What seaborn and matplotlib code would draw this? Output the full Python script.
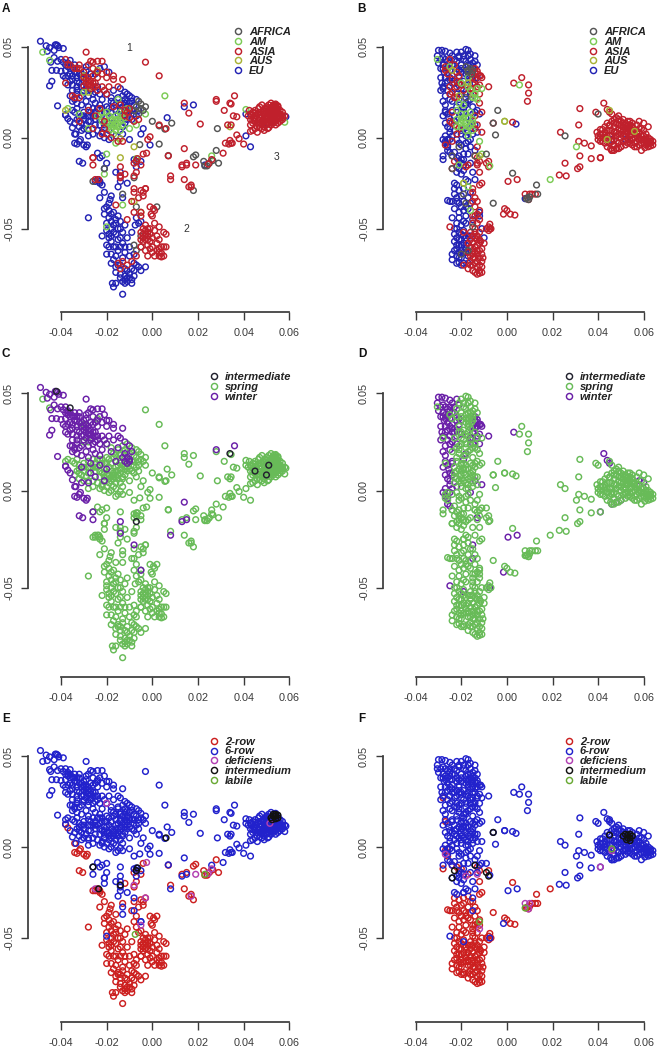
import pandas as pd
import seaborn as sns
import matplotlib.pyplot as plt
from matplotlib.lines import Line2D

# PCA scores, in units of 0.001 (pc1, pc2)
# names: l_/r_ = left/right column, then region, habit, row type

# left column (panels A, C, E)
l_eu_win_6 = [(-49,53),(-46.5,50.5),(-45,49.5),(-46,47.5),(-42.5,51),(-41.5,50.5),(-41,49.5),(-43,48),(-39,49),(-43,44),
    (-44.5,41.5),(-41.5,42),(-39,41.5),(-37,39),(-34,40),(-33,36),(-36,35),(-38,33),(-36,31),(-40,36.5),(-42,37),(-44,37),
    (-38,37),(-35,38.5),(-31,35),(-29,39),(-29,37),(-45,28.5),(-41.5,17.5),(-38,12.5),(-36,9),(-35,5.5),(-33.5,2),(-31,4),
    (-28,4),(-27,9),(-25,7),(-34,21),(-36,23),(-33,24),(-30,26),(-31,18),(-28,17),(-25,19),(-22,21),(-20,24),(-17,26),
    (-14,27),(-12,25),(-10,23),(-9,20),(-23,13),(-20,11),(-16,15),(-12,19),(-31,12),(-27,14),(-18,20),(-15,22),(-13,17),
    (-24,28),(-40,43),(-33,33),(-30,31),(-37,41),(-35,34),(-32,30),(-26,24),(-23,18),(-11,17),(-10,15),
    (-38,40),(-36,38),(-34,36),(-32,35),(-39,34),(-37,34),(-35,32),(-33,31),(-31,33),(-29,34),(-27,35),(-25,35),(-23,38),
    (-21,39),(-19,36),(-35,29),(-33,28),(-31,28),(-29,27),(-27,26),(-25,25),(-23,24),(-37,29),(-35,26),(-33,26),(-31,23),
    (-28,23),(-26,21),(-29,20),(-33,19),(-35,20),(-44,31)]
l_as_win_6 = [(-29,47),(-27,42),(-26,41.5),(-24,42),(-22,42),(-38,43),(-37,40),(-32,38),(-30,36),(-28,33),(-28,31),(-27,31),
    (-26,30),(-25,30),(-26,28),(-28,29),(-24,33),(-22,35),(-20,33),(-17,32),(-17,34),(-13,32),(-15,28),(-19,28),(-21,26),
    (-35,23),(-34,22),(-32,22),(-12,15),(-11,14),(-10,16),(-21,5),(-27,29),(-25,28),(-29,32),(14,-6),(-14,-22),(-8,-28),
    (-5,-41),(28,21),(36,23),(-26,-11),(-26,-15),(-14,-16),(8,-23),(13,-16),(15,-15),
    (-36,40),(-34,38),(-32,40),(-30,33),(-33,38),(-28,40),(-26,38),(-24,36),(-26,34),(-27,27),(-29,30),(-30,28.5),(-24,26),
    (-22,28),(-20,36),(-38,30)]
l_eu_spr_6 = [(-33,16),(-30,14),(-28,12),(-25,10),(-23,7),(-21,5),(-19,4),(-17,8),(-15,13),(-11,20),(-9,22),(-8,18),(-6,15),
    (-31,8),(-29,7),(-26,2),(-23,1),(-21,0),(-19,-1),(-35,15),(-14,11),(-12,8),(-9,10),(-4,5),(-22,-10),(-24,-8.5),(-23,-11),
    (-20,-14),(-14,-19),(-16,-19),(-14,-24),(-15,-27),(-21,-17),(6.5,11),(18,18),(14,17),(-10,-1),(-8,-12),(-11,-25),(-27,12),
    (-24,16),(-20,17),(-17,19),(-14,15),(-11,12),(-7,12),(-33,10),(-30,10),(-22,3),(-16,1),(-13,2),(-5,2),(-1,-4),(-5,-13),
    (-13,-33),(43,-5),(41,1),(58.5,11.5),(41,13),
    (-34,14),(-32,11),(-30,12),(-28,9),(-26,12),(-25,14),(-23,10),(-21,14),(-19,16),(-18,14),(-16,18),(-14,19),(-12,21),
    (-10,19),(-8,13),(-9,15),(-34,8),(-32,6),(-30,5),(-28,1),(-24,4),(-21,7),(-19,8),(-13,6),(-11,10),(-26,16),(-22,16),
    (-18,22),(-13,23),(-11,24),(-7,21)]
l_am_spr_6 = [(-48,47),(-45,42.5),(-37,16),(-32,13),(-30,25),(-28,5),(-20,8),(-18,10),(-17,6),(-16,7),(-15,6),(-15,8),(-14,9),
    (-19,12),(-21,11),(-22,9),(-16,12),(-14,4),(-13,13),(-15,21),(-10,5),(-7,7),(-3,13),(-16,-3),(5.5,23),(-7,-11.5),(41,15.5),
    (58,8.5),(26,-10),(-21,-20),(-20,-9),(-18,5),(-13,-37),(-20,-49),
    (-17,9),(-16,4),(-18,7),(-19,6),(-15,10),(-13,7),(-12,11),(-20,14),(-22,14),(-24,12),(-14,14),(-11,16),(-16,10),(-17,2)]
l_af_spr_6 = [(-6,20),(-5,18.5),(-7,17),(-5,16),(-4,15),(-3,17),(-8,15),(-6,13),(0,9),(3,6.5),(8.5,8),(5.5,4.7),(3,-3.5),
    (-5.5,-3.8),(7,-9.8),(28.5,5),(-21,-17),(-7,-13)]
l_af_spr_2 = [(18,-10.5),(19,-9.5),(22.5,-13),(23,-15.5),(24,-15.5),(25,-14),(26.5,-12.5),(28,-7),(29,-14),(18,-29),(-26,-24),
    (-8,-22),(-7,-38),(-5,-54),(-8,-59),(-7,-62),(-5,-60),(2,-38),(-13,-31)]
l_as_spr_6 = [(-3,41.5),(3,34),(14,19),(16,13.5),(21,7.5),(28,20),(31.5,15),(34.5,18.5),(35.5,12),(37,11.5),(33,7),(34.5,7),
    (34.5,-3),(33.5,-3.5),(35,-3),(31,-8.5),(32,-3),(34,-1.5),(40,-3.5),(38,-0.5),(-1,0.5),(3,7),(-15,-2),(-2,-1),(37,1.5),
    (-32,9),(-28,15),(-25,12),(-23,16),(-21,9),(-17,17),(-14,18),(-12,12),(-10,11),(-8,9),(-6,10),(-22,2),(-26,5),(-20,2),
    (-18,0),(-13,-2),
    (42,12),(43,10),(43,13),(44,8),(44.5,11),(44,14),(45,9),(45.5,12),(45,15),(46,6),(46.5,10),(46,13),(46.5,16),(47,8),
    (47,11),(47.5,14),(47,17),(48,5),(48,7),(48.5,10),(48,12),(48.5,15),(48,18),(49,6),(49,9),(49.5,11),(49,13),(49.5,16),
    (50,7),(50,10),(50.5,12),(50,14),(50,17),(51,5.5),(51,8),(51.5,11),(51,13),(51,15),(51,18),(52,7),(52,9),(52.5,12),
    (52,14),(52,16),(52,19),(53,8),(53,10),(53.5,12),(53,15),(53,17),(54,7),(54,9),(54.5,11),(54,13),(54,16),(54,18.5),
    (55,8),(55,10),(55.5,12),(55,14),(55,17),(56,9),(56,11),(56,13),(56,15),(57,10),(57,12),(57,14),(43,7),(44,4),(43,3.5),
    (45,5),(46,3),(47,5.5),(42.5,15),(49,4),(58,12),(50.5,5),
    (44,9.5),(45,13.5),(46,8),(47,12.5),(48,9),(49,14.5),(50,11),(51,9.5),(51,16.5),(52,10.5),(53,13.5),(54,10),(54,14.5),
    (55,11),(56,12),(55,15.5),(53,9),(52,13),(49,7.5),(47,9.5),(50,15.5),(57,11),(53,16),(44,12.5)]
l_as_spr_2 = [(-1,-38),(0.5,-39),(1,-40),(-0.5,-42),(0,-43),(-3,-28),(-4,-30),(-5,-29),(-6,-33),(-4,-32),(-8,-30),(-9,-35),
    (-12,-20),(-14,-21),(-8,-14),(-7,-19),(-5,-15),(-4,-9),(7,-10),(8,-21),(13,-15),(15,-14),(14,-23),(16,-27),(17,-26),
    (-3,-48),(-2,-52),(-1,-50),(1,-47),(3,-49),(5,-52),(6,-53),(-5,-52),(-4,-55),(-3,-56),(-2,-54),(-1,-57),(0,-55),(-4,-57),
    (-2,-59),(0,-60),(2,-58),(3,-61),(5,-60),(1,-65),(3,-65),(4,-65.5),(5,-65),(-2,-65),(0,-63),(6,-60),(-5,-60),(-7,-65),
    (-9,-68),(-11,-70),(-13,-68),(-14,-72),(-3,-51),(-2,-56),(-4,-53),(-15,-69),(-11,-45),(-8,-41),(-16,-37),
    (-4,-50),(-3,-53),(-1,-53),(-5,-56),(-2,-50),(1,-51),(2,-54),(3,-56),(4,-60),(2,-62),(-1,-61),(-3,-62),(3,-63),(4,-63.5)]
l_eu_spr_2 = [(-20,-38),(-19,-40),(-21,-42),(-19,-44),(-18,-46),(-20,-47),(-17,-41),(-15,-43),(-14,-46),(-12,-48),(-13,-52),
    (-15,-50),(-17,-52),(-19,-53),(-18,-57),(-19,-60),(-17,-60),(-15,-56),(-15,-62),(-13,-58),(-11,-55),(-9,-52),(-7,-44),
    (-6,-47),(-5,-46),(-10,-60),(-12,-63),(-13,-66),(-17,-67),(-18,-69),(-15,-70),(-11,-73),(-10,-75),(-12,-76),(-11,-77),
    (-10,-77),(-9,-78),(-8,-76),(-13,-79),(-12,-80),(-9,-80),(-17.5,-80),(-17,-82),(-16,-80),(-13,-86),(-14,-75),(-7,-70),
    (-5,-73),(-3,-71),(-6,-71),(-20,-64),(-19,-55),(-23,-33),(-21,-30),(-25,-24),(-24,-23),(-23,-24),(-23,-25),(-22,-26),
    (-18.5,-34),(-19,-36),(-18,-32),(-10,-65),(-8,-69),(-16,-74),(-14,-77),(-28,-44),(-22,-54),(-16,-47),
    (-18,-42),(-16,-45),(-17,-48),(-21,-39),(-20,-51),(-16,-53),(-14,-55),(-18,-54),(-18,-50),(-14,-60),(-16,-60),(-12,-60),
    (-8,-64),(-9,-72),(-12,-72),(-14,-70),(-16,-71),(-11,-79),(-12,-78),(-8,-73),(-16,-65),(-18,-64),(-20,-59),(-14,-50)]
l_eu_win_2 = [(-38,12.5),(-37,10.5),(-34,2),(-34,-3),(-33,-3.5),(-32,-2),(-31.5,-1),(-30,-4),(-29,-5),(-28.5,-4),(-32,-13),
    (-30.5,-14)]
l_eu_int_6 = [(-36,42.5),(-42,51),(-7,-16),(50,8)]
l_as_int_6 = [(34,19),(51,13),(45,10)]
l_aus_spr_6 = [(-30,34),(-24,37),(-28,25),(-14,-0.5),(-14,-11),(-8,-5),(-8,-35),(50,10),(34,6),(-38,15),(-5,-41)]
l_as_spr_def = [(-2.5,-8.5),(19,-15),(26,-12),(24.5,-14.5),(-3,-28),(-5,-43),(-8,-21),(-25,-23),(17,-27),(51.5,13),(-20,24)]
l_as_spr_int = [(6,5),(-26,-11),(-7,-13),(-6.5,-11.5),(-14,-21),(-23.5,-23),(52,16),(53,17),(54,17),(54,18),(53,18),(55,16),
    (52.5,15),(54,15.5),(55,17.5)]
l_eu_spr_lab = [(-7.5,-48),(23,-15)]

# right column (panels B, D, F)
r_eu_win_6 = [(-30,48),(-28.5,48),(-27,47.5),(-25,46.5),(-30.5,45),(-29,43),(-28,40),(-29,38),(-27.5,36),(-26,42),(-24,45),
    (-22,47),(-29,33),(-28.5,30),(-27,33),(-26,31),(-25,37),(-24,34),(-29,26),(-28,20),(-27,15),(-25.5,11),(-26,6),(-25,5),
    (-27,1),(-26,-1),(-26,-4),(-25,-8),(-26,-7),(-13,33),(-22,24),(-19,16),(-16,-1),(-18,19),(-23,30),(-21,37),
    (-30,41),(-28,44),(-27,43),(-25,41),(-28,38),(-26,38),(-24,40),(-27,30),(-25,33),(-24,30),(-28,28),(-26,26),(-27,23),
    (-25,21),(-27,18),(-28,12),(-26,13),(-24,15),(-27,8),(-25,3),(-27,-3),(-25,-1),(-24,1),(-28,-1),(-23,43),(-21,44)]
r_as_win_6 = [(-14,38),(-13,35),(-12,34),(-11.5,34),(-14,32),(-15,30),(-13,28),(-8,28),(-16,27),(-15,24),(-12,24),(3,30),(-11,3),
    (-27,37),(-26,35),(-25,28),(-24,25),(-22,31),(-20,29),(-24,8),(-22,2),(-14,5),(42.5,19),(44,15.5),(45,14),(58,5),(60,4),
    (48,-6),(46,-7),(50,-5),(41,-11),(-13,-14),(0.5,-24),(4.5,-23),(-1.5,-42),(-15,-28),(-15,-35),(-19,-52),(-25,-49),(-7.5,-50),
    (-27,39),(-25,43),(-23,40),(-22,36),(-24,32),(-21,34),(-22,28),(-25,24),(-23,22),(-14,36),(-13,36.5),(-15,33),(-12,29),
    (-15,27),(-11,33),(-24,14),(-25,9)]
r_eu_spr_6 = [(-20,47),(-18,48.5),(-17,48),(-19,45),(-17,45),(-18,42),(-16,43),(-15,41),(-14,42),(-13,40),(-20,40),(-22,38),
    (-20,36),(-18,37),(-21,33),(-19,31),(-17,34),(-15,36),(-14,30),(-23,27),(-20,27),(-24,20),(-22,17),(-20,14),(-18,11),
    (-16,9),(-14,7),(-19,5),(-17,3),(-20,2),(-23,4),(-16,5),(-13,3),(-22,-1),(-20,-4),(-18,-6),(-14,-7),(-17,-9),(-21,-10),
    (-19,-12),(-20,-14),(-21,-17),(-19,-18),(-22,-19),(-15,-19),(-17,-24),(-23,-25),(-22,-26),(-14,-23),(4,7.5),(52,-1),
    (-23,12),(-18,24),(-16,21),(-12,13),(-28,-10),
    (-21,45),(-19,43),(-16,46),(-14,45),(-17,40),(-15,39),(-16,40),(-18,35),(-20,38),(-16,32),(-18,29),(-20,24),(-21,21),
    (-16,24),(-17,20),(-19,14),(-15,17),(-13,15),(-21,11),(-15,13),(-23,9),(-20,4),(-18,1),(-15,2),(-21,-3),(-18,-3),(-16,-5),
    (-19,-9),(-16,-14),(-20,-20),(-18,-23),(-22,-16),(-19,-15),(-23,-8),(-17,-2),(-14,14),(-22,42),(-18,18)]
r_am_spr_6 = [(-30.5,43),(-25,39),(-17,33),(-20,30),(-16,26),(-13,27),(-11,27),(-14,22),(-13,21),(-21,19),(-22,15),(-20,13),
    (-19,11),(-22,10),(-18,8),(-20,8),(-17,11),(-15,10),(-22,6),(-17,1),(-12,-2),(-11,-9),(-7.5,-15.5),(5.5,29),(-1,9),
    (-21,-15),(-19,-25),(30.5,-5),
    (-18,13),(-19,9),(-20,10),(-16,7),(-15,8),(-17,6),(-20,6),(-18,4),(-15,4),(-16,14),(-15,22),(-14,24),(-17,28),(-19,18)]
r_af_spr_6 = [(-18,39),(-16,38),(-15,37),(-17,37),(-15.5,35),(-17,36),(-4,15),(-6,8),(-5,1.5),(-9,-9),(-18,22),(25.5,1),(40,13),
    (-24,-17),(-21,-5),(-14,-10),(-24,-10)]
r_af_spr_2 = [(2.5,-19.5),(13,-26),(13.5,-31),(9,-33),(8.5,-33.5),(9.5,-34),(10,-32.5),(-6,-36),(-19,-31),(-18,-36),(-15,-49),
    (-20,-64),(-17,-62)]
r_as_spr_6 = [(39.5,3),(40,1),(40,-1),(41,4.5),(41,0),(42,2),(42,-2),(43,6),(43,3),(43,-3),(44,1),(44,-1),(44,-5),(45,4),(45,7),
    (45,-3),(45.5,-6),(46,1),(46,-7),(47,6),(47,3),(47,-1),(47,-4),(48,8),(48,1),(48,-6),(49,5),(49,-3),(49,10),(50,7),(50,2),
    (50,0),(50,-5),(51,10),(51,4),(51,-2),(52,8),(52,5),(52,1),(52,-4),(53,7),(53,3),(53,-1),(54,5),(54,9),(54,-3),(55,2),
    (55,6),(55,-1),(56,4),(56,0),(56,-3),(57,7),(57,1),(57,-2),(57,-5),(58,3),(58,9),(58,-1),(59,-7),(59,5),(59,-3),(60,1),
    (60,8),(60,-3),(61,-1),(61,2),(61,-4),(62,-2),(62,-5),(62,6),(63,-1),(63,-3),(64,-2),(64,-4),(60.5,-5.5),(44,8),(47,10),
    (46,13),(48,11),(6.5,33),(9.5,29),(9.5,24.5),(9,20),(32,16),(39,14),(31.5,7),(23.5,3),(31.5,-2),(37,-4.5),(32,-10),
    (37,-11.5),(25.5,-14),(32,-16),(31,-17),(23,-20.5),(26,-21),(2.5,8.5),(34,-3),
    (-23,7),(-21,5),(-24,-2),(-13,7),(-22,22),(-19,26),(-12,19),(-13,-5),(-21,30),(-14,12),(-11,14),
    (41,2),(42,4.5),(43,0),(44,4),(45,1),(46,4),(46,-2),(47,8),(48,3),(48,-2),(49,2),(49,7),(50,4),(50,9),(51,1),(51,6),(52,3),
    (53,9),(53,-3),(54,1),(54,-1),(55,4),(55,8),(56,2),(56,-5),(57,3),(58,0),(58,-4),(59,1),(60,-1),(59,-1),(61,0),(62,-3.5),
    (62,0),(63,-2),(47,-7),(49,-6),(52,-2),(55,-4),(61,-3),(63,-4.5),(43,1.5),(41,-2),(51,8),(49,12),(46,9)]
r_as_spr_2 = [(-15,-30),(-14,-33),(-13,-35),(-14,-38),(-12,-40),(-13,-42),(-15,-43),(-16,-52),(-15,-54),(-14,-55),(-13,-54),
    (-12,-56),(-15,-58),(-14,-60),(-13,-59),(-12,-62),(-15,-62),(-13,-64),(-11,-61),(-14,-66),(-12,-66),(-10.5,-66),(-16,-65),
    (-17,-72),(-15,-70),(-13,-71),(-11,-68),(-15,-73),(-14,-74),(-13,-75),(-12,-74.5),(-12,-73),(-11,-74),(-19,-70),(-8,-49),
    (-7.5,-47.5),(-7,-50),(-9,-50),(-8,-51),(-12,-26),(-11,-25),(-17,-15),(-12,-19),(-12,-13),(-13,-11),(-8,-13),(11,-31),
    (12.5,-31),(-1,-39),(0,-40),(1.5,-42),(3.5,-42.5),(-16,-60),(-14,-50),(-13,-47),(-11.5,-57),(-17,-63),(-16,-68),
    (-14,-43),(-15,-47),(-14,-52),(-13,-56),(-12,-52),(-13,-62),(-15,-64),(-14,-63),(-12,-58),(-11,-64),(-12,-70),(-14,-69),
    (-16,-70),(-17,-58),(-16,-56),(-15,-66),(-13,-68),(-11,-71),(-10,-58)]
r_eu_spr_2 = [(-23,-31),(-22,-33),(-24,-35),(-21,-36),(-19,-35),(-23,-39),(-21,-41),(-19,-40),(-17,-39),(-22,-47),(-20,-48),
    (-18,-47),(-15,-45),(-12,-43),(-23,-50),(-21,-52),(-19,-51),(-22,-55),(-20,-56),(-18,-55),(-16,-54),(-23,-57),(-21,-59),
    (-19,-58),(-17,-58),(-22,-61),(-20,-62),(-18,-61),(-24,-64),(-22,-65),(-20,-66),(-18,-63),(-22,-69),(-21,-68.5),(-19,-69),
    (-11,-50),(-10,-55),(-27,-2),(-26,-1),(-27,14),(-28,27),(-26,-5),(-28,-12),(-24,-10),(-22,-11),(-21,-13),(-20,-12),(-25,-35),
    (-22,-35),(-20,-38),(-18,-38),(-16,-36),(-21,-44),(-19,-46),(-22,-50),(-20,-53),(-19,-54),(-21,-56),(-20,-59),(-18,-59),
    (-17,-54),(-23,-53),(-22,-59),(-21,-63),(-19,-63),(-23,-62),(-17,-65),(-21,-66),(-24,-67),(-20,-70),(-17,-69),(-26,-34.5),
    (-20,-32),(-23,-28),(-21,-29),(-19,-28),(-16,-30),(-17,-33),(-24,-44),(-18,-43)]
r_am_spr_2 = [(19,-23),(-17,-27),(-16,-40)]
r_aus_spr_6 = [(-17,30),(-21,23),(-24,37),(-1,9),(-12,-10),(56,3.5),(44,-1),(45,15),(-19,-25)]
r_as_spr_def = [(-13,-15),(9.5,-34),(10,-31),(-12,-45),(-27,-4),(8,-31),(-18,-16),(46,-2),(41,-11)]
r_as_spr_int = [(-6,8),(-9,-14),(-8,-16),(-24,-17),(-23,-13),(-14,-10),(51,6),(52,7),(53,5),(53,6.5),(54,7),(54,5),(55,6),(52.5,4),
    (54,3.5),(45,6.5)]
r_eu_spr_lab = [(8,-33.5),(-12,-41),(46,-1)]

groups_left = [
    ("EU", "winter", "6-row", l_eu_win_6), ("ASIA", "winter", "6-row", l_as_win_6), ("EU", "spring", "6-row", l_eu_spr_6),
    ("AM", "spring", "6-row", l_am_spr_6), ("AFRICA", "spring", "6-row", l_af_spr_6), ("AFRICA", "spring", "2-row", l_af_spr_2),
    ("ASIA", "spring", "6-row", l_as_spr_6), ("ASIA", "spring", "2-row", l_as_spr_2), ("EU", "spring", "2-row", l_eu_spr_2),
    ("EU", "winter", "2-row", l_eu_win_2), ("EU", "intermediate", "6-row", l_eu_int_6), ("ASIA", "intermediate", "6-row", l_as_int_6),
    ("AUS", "spring", "6-row", l_aus_spr_6), ("ASIA", "spring", "deficiens", l_as_spr_def),
    ("ASIA", "spring", "intermedium", l_as_spr_int), ("EU", "spring", "labile", l_eu_spr_lab),
]
groups_right = [
    ("EU", "winter", "6-row", r_eu_win_6), ("ASIA", "winter", "6-row", r_as_win_6), ("EU", "spring", "6-row", r_eu_spr_6),
    ("AM", "spring", "6-row", r_am_spr_6), ("AFRICA", "spring", "6-row", r_af_spr_6), ("AFRICA", "spring", "2-row", r_af_spr_2),
    ("ASIA", "spring", "6-row", r_as_spr_6), ("ASIA", "spring", "2-row", r_as_spr_2), ("EU", "spring", "2-row", r_eu_spr_2),
    ("AM", "spring", "2-row", r_am_spr_2), ("AUS", "spring", "6-row", r_aus_spr_6), ("ASIA", "spring", "deficiens", r_as_spr_def),
    ("ASIA", "spring", "intermedium", r_as_spr_int), ("EU", "spring", "labile", r_eu_spr_lab),
]

region_order = ["AFRICA", "AM", "ASIA", "AUS", "EU"]
habit_order = ["intermediate", "spring", "winter"]
row_order = ["2-row", "6-row", "deficiens", "intermedium", "labile"]
region_colors = ["#555555", "#7ccb55", "#c0202c", "#a9b236", "#2323b4"]
habit_colors = ["#22222e", "#68bb58", "#6a20a8"]
row_colors = ["#cc2020", "#2222cc", "#b23fb2", "#111111", "#6aaa35"]


def make_table(groups):
    rows = []
    for region, habit, row_type, pts in groups:
        for pc1, pc2 in pts:
            rows.append((pc1 / 1000, pc2 / 1000, region, habit, row_type))
    return pd.DataFrame(rows, columns=["pc1", "pc2", "region", "habit", "row"])


df_left = make_table(groups_left)
df_right = make_table(groups_right)

sns.set_theme(style="ticks")
plt.rcParams["font.family"] = ["Liberation Sans", "DejaVu Sans"]

W, H = 666, 1051
fig = plt.figure(figsize=(W / 100, H / 100), dpi=100)
dark = "#3a3a3a"

# column: x px of -0.04 and 0.06, left axis px
col_left = (61, 289.3, 28)
col_right = (415.7, 643.7, 383)
# row: y px of 0.05 and -0.05, bottom axis px
row_a = (46.7, 228.7, 312)
row_c = (393.3, 587.7, 677)
row_e = (756, 938, 1021.7)

panels = [
    ("A", col_left, row_a, df_left, "region", region_order, region_colors, ["EU", "AM", "AFRICA", "AUS", "ASIA"], 232.5, 27),
    ("B", col_right, row_a, df_right, "region", region_order, region_colors, ["EU", "ASIA", "AM", "AFRICA", "AUS"], 587.5, 27),
    ("C", col_left, row_c, df_left, "habit", habit_order, habit_colors, ["spring", "winter", "intermediate"], 208.5, 372),
    ("D", col_right, row_c, df_right, "habit", habit_order, habit_colors, ["winter", "spring", "intermediate"], 563.5, 372),
    ("E", col_left, row_e, df_left, "row", row_order, row_colors, ["2-row", "6-row", "deficiens", "labile", "intermedium"], 208.5, 736.7),
    ("F", col_right, row_e, df_right, "row", row_order, row_colors, ["2-row", "6-row", "deficiens", "labile", "intermedium"], 563.5, 736.7),
]

for letter, col, row, df, hue, order, colors, draw_order, leg_x, leg_y in panels:
    x04, x06, left = col
    y05, y95, bottom = row
    right = left + 283
    top = y05 - 18
    ax = fig.add_axes([left / W, 1 - bottom / H, (right - left) / W, (bottom - top) / H])
    ax.patch.set_alpha(0)

    plot_df = df.copy()
    plot_df["rank"] = plot_df[hue].map({k: i for i, k in enumerate(draw_order)})
    plot_df = plot_df.sort_values("rank", kind="stable")
    sns.scatterplot(data=plot_df, x="pc1", y="pc2", hue=hue, hue_order=order, palette=colors,
                    s=17, linewidth=1.05, legend=False, ax=ax, clip_on=False)
    pts = ax.collections[0]
    pts.set_edgecolors(pts.get_facecolors())
    pts.set_facecolors("none")

    # R style axes, detached from the points
    sx = (x06 - x04) / 0.10
    sy = (y95 - y05) / 0.10
    ax.set_xlim(-0.04 - (x04 - left) / sx, -0.04 + (right - x04) / sx)
    ax.set_ylim(0.05 - (bottom - y05) / sy, 0.05 + (y05 - top) / sy)
    ax.set_xticks([-0.04, -0.02, 0.00, 0.02, 0.04, 0.06])
    ax.set_xticklabels(["-0.04", "-0.02", "0.00", "0.02", "0.04", "0.06"])
    ax.set_yticks([-0.05, 0.00, 0.05])
    ax.set_yticklabels(["-0.05", "0.00", "0.05"], rotation=90, va="center")
    ax.tick_params(axis="x", length=5.5, width=1, color=dark, labelcolor=dark, labelsize=7.8, pad=6)
    ax.tick_params(axis="y", length=5, width=1, color=dark, labelcolor=dark, labelsize=7.8, pad=5)
    ax.set_xlabel("")
    ax.set_ylabel("")
    sns.despine(ax=ax)
    ax.spines["left"].set_bounds(-0.05, 0.05)
    ax.spines["bottom"].set_bounds(-0.04, 0.06)
    ax.spines["left"].set_color(dark)
    ax.spines["bottom"].set_color(dark)

    handles = [Line2D([], [], linestyle="", marker="o", markersize=4.4, markerfacecolor="none",
                      markeredgecolor=c, markeredgewidth=1.05) for c in colors]
    leg = fig.legend(handles, order, loc="upper left", bbox_to_anchor=(leg_x / W, 1 - leg_y / H),
                     frameon=False, handlelength=1, handletextpad=0.48, borderpad=0, borderaxespad=0,
                     labelspacing=-0.02, prop={"size": 8, "weight": "bold", "style": "italic"})
    for t in leg.get_texts():
        t.set_color("#222222")

    lx = 6 if letter in "ACE" else 362
    ly = {"A": 9, "B": 9, "C": 354, "D": 354, "E": 719, "F": 719}[letter]
    fig.text(lx / W, 1 - ly / H, letter, fontsize=8.5, fontweight="bold", color="#111111", ha="center", va="center")

    if letter == "A":
        for txt, px, py in [("1", 129, 48), ("2", 186, 229), ("3", 277, 157)]:
            fig.text(px / W, 1 - py / H, txt, fontsize=7.5, color="#333333", ha="center", va="center")

fig.savefig("out.png", dpi=100)
